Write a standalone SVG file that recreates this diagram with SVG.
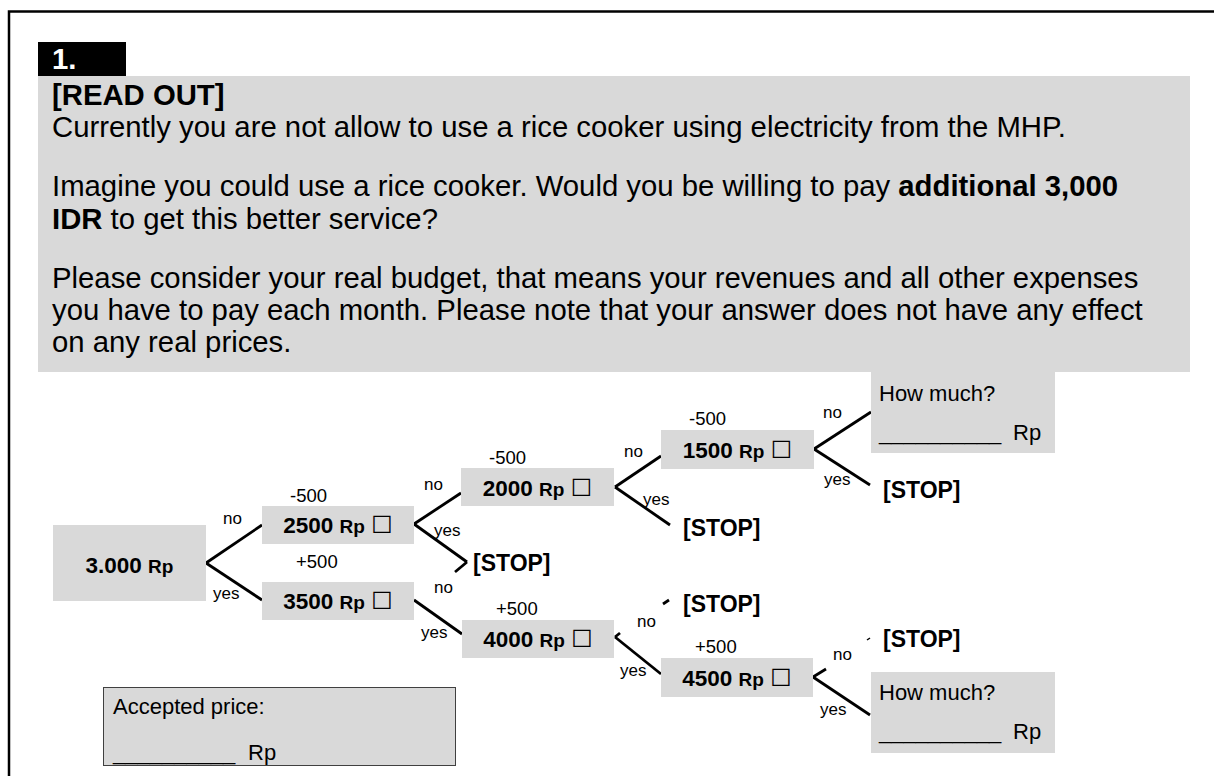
<svg xmlns="http://www.w3.org/2000/svg" width="1214" height="776" viewBox="0 0 1214 776">
<style>
text{font-family:"Liberation Sans",Arial,sans-serif;fill:#000}
.frame{fill:none;stroke:#000;stroke-width:2.5}
.g{fill:#d9d9d9}
.hdr{font-size:29.3px}
.b{font-weight:bold}
.num{font-size:22.5px;font-weight:bold}
.rp{font-size:19px}
.chk{font-family:"DejaVu Sans",sans-serif;font-weight:normal;font-size:24px}
.lbl{font-size:17px}
.dl{font-size:18.5px}
.stop{font-size:23px;font-weight:bold}
.ans{font-size:22px}
.conn path{fill:none;stroke:#000;stroke-width:2.8}
</style>
<rect width="1214" height="776" fill="#fff"/>
<path class="frame" d="M9,776 V11.5 H1214"/>

<g id="question">
<rect x="38" y="42" width="88" height="34" fill="#000"/>
<text x="52" y="69" class="hdr b" style="fill:#fff">1.</text>
<rect class="g" x="38" y="76" width="1152" height="296"/>
<text x="52" y="105" class="hdr b">[READ OUT]</text>
<text x="52" y="137" class="hdr">Currently you are not allow to use a rice cooker using electricity from the MHP.</text>
<text x="52" y="196" class="hdr">Imagine you could use a rice cooker. Would you be willing to pay <tspan class="b">additional 3,000</tspan></text>
<text x="52" y="229" class="hdr"><tspan class="b">IDR</tspan> to get this better service?</text>
<text x="52" y="288" class="hdr">Please consider your real budget, that means your revenues and all other expenses</text>
<text x="52" y="320" class="hdr">you have to pay each month. Please note that your answer does not have any effect</text>
<text x="52" y="352" class="hdr">on any real prices.</text>
</g>

<g class="conn" id="connectors">
<path d="M206,563 L262,525"/>
<path d="M206,563 L262,600"/>
<path d="M414,524 L461,493"/>
<path d="M414,524 L467,562"/>
<path d="M455,572 L467,562"/>
<path d="M414,600 L462,634"/>
<path d="M615,487 L661,456"/>
<path d="M615,487 L670,525"/>
<path d="M615,637 L620,633"/>
<path d="M663,604 L669,600"/>
<path d="M615,637 L661,674"/>
<path d="M814,449 L871,412"/>
<path d="M814,449 L870,485"/>
<path d="M813,677 L826,669"/>
<path d="M867,640 L870,638" style="stroke-width:1.5"/>
<path d="M813,677 L870,715"/>
</g>

<g id="n3000">
<rect class="g" x="53" y="525" width="153" height="76"/>
<text x="129.5" y="573" text-anchor="middle" class="num">3.000 <tspan class="rp">Rp</tspan></text>
</g>
<g id="n2500">
<rect class="g" x="262" y="506" width="152" height="38"/>
<text x="338" y="533" text-anchor="middle" class="num">2500 <tspan class="rp">Rp</tspan> <tspan class="chk">☐</tspan></text>
</g>
<g id="n3500">
<rect class="g" x="262" y="582" width="152" height="38"/>
<text x="338" y="609" text-anchor="middle" class="num">3500 <tspan class="rp">Rp</tspan> <tspan class="chk">☐</tspan></text>
</g>
<g id="n2000">
<rect class="g" x="461" y="468" width="153" height="38"/>
<text x="537.5" y="496" text-anchor="middle" class="num">2000 <tspan class="rp">Rp</tspan> <tspan class="chk">☐</tspan></text>
</g>
<g id="n4000">
<rect class="g" x="462" y="620" width="152" height="38"/>
<text x="538" y="647" text-anchor="middle" class="num">4000 <tspan class="rp">Rp</tspan> <tspan class="chk">☐</tspan></text>
</g>
<g id="n1500">
<rect class="g" x="661" y="430" width="153" height="39"/>
<text x="737.5" y="458" text-anchor="middle" class="num">1500 <tspan class="rp">Rp</tspan> <tspan class="chk">☐</tspan></text>
</g>
<g id="n4500">
<rect class="g" x="661" y="658" width="152" height="39"/>
<text x="737" y="686" text-anchor="middle" class="num">4500 <tspan class="rp">Rp</tspan> <tspan class="chk">☐</tspan></text>
</g>
<g id="howmuch1">
<rect class="g" x="871" y="372" width="184" height="81"/>
<text x="879" y="401" class="ans">How much?</text>
<text x="879" y="440" class="ans">__________</text>
<text x="1013" y="440" class="ans">Rp</text>
</g>
<g id="howmuch2">
<rect class="g" x="871" y="672" width="184" height="81"/>
<text x="879" y="700" class="ans">How much?</text>
<text x="879" y="739" class="ans">__________</text>
<text x="1013" y="739" class="ans">Rp</text>
</g>
<g id="accepted">
<rect x="103.5" y="687.5" width="352" height="78" fill="#d9d9d9" stroke="#404040" stroke-width="1"/>
<text x="113" y="714" class="ans">Accepted price:</text>
<text x="113" y="760" class="ans">__________</text>
<text x="248" y="760" class="ans">Rp</text>
</g>
<g id="stops">
<text x="473" y="571" class="stop">[STOP]</text>
<text x="683" y="536" class="stop">[STOP]</text>
<text x="883" y="498" class="stop">[STOP]</text>
<text x="683" y="612" class="stop">[STOP]</text>
<text x="883" y="647" class="stop">[STOP]</text>
</g>
<g id="labels">
<text x="223" y="524" class="lbl">no</text>
<text x="213" y="599" class="lbl">yes</text>
<text x="290" y="502" class="dl">-500</text>
<text x="296" y="568" class="dl">+500</text>
<text x="424" y="490" class="lbl">no</text>
<text x="434" y="536" class="lbl">yes</text>
<text x="489" y="464" class="dl">-500</text>
<text x="434" y="593" class="lbl">no</text>
<text x="421" y="638" class="lbl">yes</text>
<text x="496" y="615" class="dl">+500</text>
<text x="624" y="457" class="lbl">no</text>
<text x="643" y="505" class="lbl">yes</text>
<text x="689" y="425" class="dl">-500</text>
<text x="823" y="418" class="lbl">no</text>
<text x="824" y="485" class="lbl">yes</text>
<text x="637" y="627" class="lbl">no</text>
<text x="620" y="676" class="lbl">yes</text>
<text x="695" y="653" class="dl">+500</text>
<text x="833" y="660" class="lbl">no</text>
<text x="820" y="715" class="lbl">yes</text>
</g>
</svg>
